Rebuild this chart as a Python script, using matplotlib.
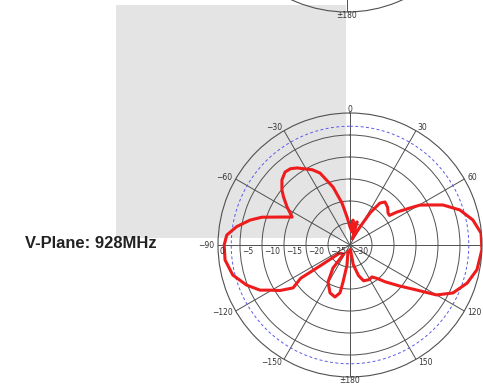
import numpy as np
import matplotlib.pyplot as plt
from matplotlib.patches import Rectangle
from matplotlib.transforms import offset_copy

# V-plane pattern at 928 MHz, traced along the plotted path (deg, dB)
angle_deg = [-164, -171.5, -169.3, -168.2, -163.9, -157.4, -149.3, -143.5, -145,
             -128, -125, -124, -127, -123, -119.4, -116.6, -111.2, -104.4, -96.8,
             -90, -85.4, -80.8, -76, -72.5, -68.2, -64.2, -58.9, -54, -51, -46.3, -41.7,
             -38, -34.5, -30.6, -26.5, -22.6, -16.3, -10.8, -6.1, 0, 8.7,
             6.8, 12, 17, 20,
             29, 32, 35.5, 39.1, 45, 49.9, 53.1, 54.9, 58.3, 60.3, 62.5, 66.7,
             72.3, 78.5, 84.8, 92, 101, 108, 115, 120, 124, 129.8, 136.2, 141.3,
             145.6, 151.2, 159.2, 164.5, 170.6, 175, -164]
gain_db = [-28.3, -25.4, -21.4, -18.9, -17.7, -18.2, -20.2, -23.5, -27.5,
           -27, -22, -16.5, -13.8, -11, -9.1, -7.1, -4.8, -2.5, -1.4,
           -1.4, -1.9, -3.9, -6.6, -9.0, -12.9, -15.4, -13.3, -11.3, -10.1, -8.6, -7.8,
           -8.0, -8.75, -9.9, -10.9, -12.3, -16.3, -20.3, -23.6, -25.9, -27,
           -24.3, -26.5, -24.5, -28.5,
           -25.3, -21.4, -18.3, -17.4, -17.9, -18.7, -18.8, -17.0, -14.0, -11.7, -10.3, -7.0,
           -3.8, -1.5, -0.1, 0.0, -0.6, -2.0, -4.2, -7.3, -11.7, -15.5, -18.4, -20.3,
           -21.2, -21.0, -21.3, -22.8, -25.5, -29.0, -28.3]

theta_ticks = np.arange(0, 360, 30)
theta_labels = ["0", "30", "60", "90", "120", "150", "\u00b1180",
                "\u2212150", "\u2212120", "\u221290", "\u221260", "\u221230"]
r_ticks = [0, -5, -10, -15, -20, -25, -30]
half_power = -3

W, H = 483, 387
R = 132


def setup_polar(ax):
    ax.set_theta_zero_location("N")
    ax.set_theta_direction(-1)
    ax.set_ylim(-30, 0)
    ax.set_yticks(r_ticks[1:-1])
    ax.set_yticklabels([])
    ax.set_xticks(np.deg2rad(theta_ticks))
    ax.set_xticklabels([])
    ax.tick_params(axis="x", length=0)
    ax.grid(True, color="#505050", lw=0.7)
    ax.spines["polar"].set_color("#505050")
    ax.spines["polar"].set_linewidth(0.8)
    ax.set_facecolor("none")
    t = np.linspace(0, 2 * np.pi, 361)
    ax.plot(t, np.full_like(t, half_power), ls=(0, (3, 2.5)), color="#5a5ae8", lw=0.7)
    # angle labels just outside the rim
    for a, s in zip(theta_ticks, theta_labels):
        if a in (0, 180):
            ha = "center"
        elif a < 180:
            ha = "left"
        else:
            ha = "right"
        ax.text(np.deg2rad(a), 0.8, s, ha=ha, va="center", fontsize=5.5,
                color="#333333", clip_on=False)


fig = plt.figure(figsize=(W / 100, H / 100), dpi=100)

# grey panel behind the charts
fig.add_artist(Rectangle((116 / W, (H - 238) / H), 230 / W, 233 / H,
                         transform=fig.transFigure, facecolor="#e4e4e4",
                         edgecolor="none", zorder=-1))

# upper chart (only its bottom edge shows)
ax_top = fig.add_axes([(347 - R) / W, (H - 12) / H, 2 * R / W, 2 * R / H], projection="polar")
setup_polar(ax_top)

# V-plane chart
ax = fig.add_axes([(350 - R) / W, (H - 245 - R) / H, 2 * R / W, 2 * R / H], projection="polar")
setup_polar(ax)
ax.plot(np.deg2rad(angle_deg), gain_db, color="#ee1c1c", lw=2.2,
        solid_joinstyle="round", solid_capstyle="round")

off = offset_copy(ax.transData, fig=fig, x=2, y=-2, units="dots")
for r in r_ticks:
    ax.text(np.deg2rad(-90), r, str(r).replace("-", "\u2212"), transform=off,
            ha="left", va="top", fontsize=5.5, color="#333333")

fig.text(25 / W, 1 - 243 / H, "V-Plane: 928MHz", fontsize=11.9, fontweight="bold",
         family="Liberation Sans", color="#222222", ha="left", va="center")

fig.savefig("out.png", dpi=100)
